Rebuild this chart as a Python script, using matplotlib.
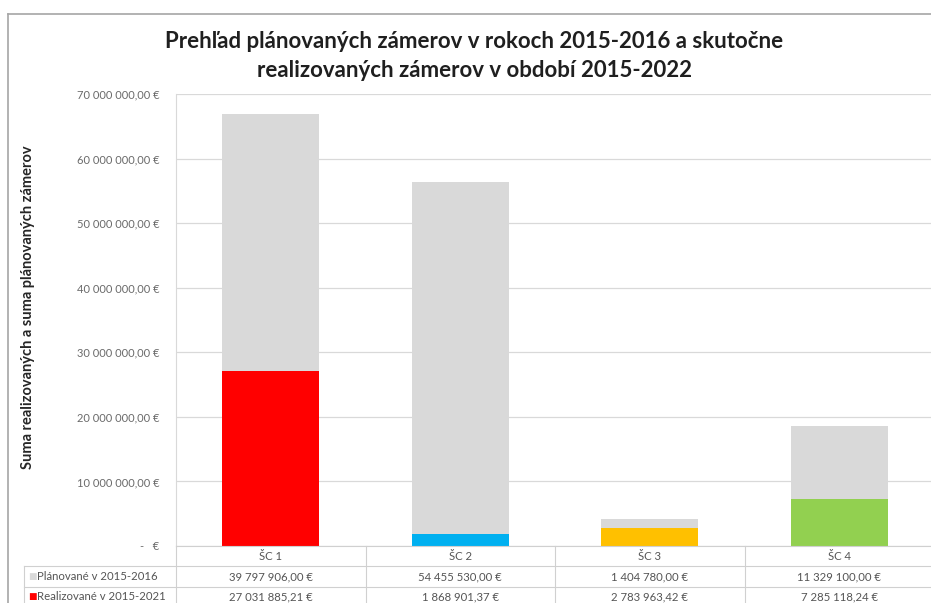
import matplotlib
matplotlib.use("Agg")
import matplotlib.pyplot as plt
from matplotlib.lines import Line2D
from matplotlib.ticker import FuncFormatter

plt.rcParams["font.family"] = ["Lato", "DejaVu Sans"]

categories = ["ŠC 1", "ŠC 2", "ŠC 3", "ŠC 4"]
planned = [39797906.00, 54455530.00, 1404780.00, 11329100.00]
realized = [27031885.21, 1868901.37, 2783963.42, 7285118.24]
planned_label = "Plánované v 2015-2016"
realized_label = "Realizované v 2015-2021"
realized_colors = ["#FF0000", "#00B0F0", "#FFC000", "#92D050"]
planned_color = "#D9D9D9"

title = "Prehľad plánovaných zámerov v rokoch 2015-2016 a skutočne\nrealizovaných zámerov v období 2015-2022"
ylabel = "Suma realizovaných a suma plánovaných zámerov"


def eur(v):
    s = f"{v:,.2f}".replace(",", " ").replace(".", ",")
    return s + " €"


def eur_tick(v, pos):
    if v == 0:
        return "-   €"
    return eur(v)


W, H = 931, 603
fig = plt.figure(figsize=(W / 100, H / 100), dpi=100)

# helper: pixel coords -> figure fraction
def fx(px):
    return px / W


def fy(py):
    return 1 - py / H


ax_left, ax_right, ax_top, ax_bottom = 176, 934, 94, 546
ax = fig.add_axes([fx(ax_left), fy(ax_bottom), fx(ax_right - ax_left), fy(ax_top) - fy(ax_bottom)])

x = list(range(len(categories)))
ax.bar(x, realized, width=0.51, color=realized_colors, zorder=3)
ax.bar(x, planned, width=0.51, bottom=realized, color=planned_color, zorder=3)

ax.set_xlim(-0.5, len(categories) - 0.5)
ax.set_ylim(0, 70000000)
ax.set_yticks(range(0, 70000001, 10000000))
ax.yaxis.set_major_formatter(FuncFormatter(eur_tick))
ax.tick_params(axis="y", labelsize=8, colors="#6A6A6A", length=0, pad=12)
ax.set_xticks([])
ax.grid(axis="y", color="#D9D9D9", linewidth=0.9, zorder=0)
for side in ["top", "right", "bottom"]:
    ax.spines[side].set_visible(False)
ax.spines["left"].set_color("#D9D9D9")

# data table under the axes
line_kw = dict(color="#D0D0D0", linewidth=0.8, transform=fig.transFigure, clip_on=False)
row_y = [546, 566, 587, 608]
label_left = 24
fig.add_artist(Line2D([fx(ax_left), 1.01], [fy(row_y[0])] * 2, **line_kw))
for yy in row_y[1:]:
    fig.add_artist(Line2D([fx(label_left), 1.01], [fy(yy)] * 2, **line_kw))
fig.add_artist(Line2D([fx(label_left)] * 2, [fy(row_y[1]), 0], **line_kw))
fig.add_artist(Line2D([fx(ax_left)] * 2, [fy(row_y[0]), 0], **line_kw))
col_w = (ax_right - ax_left) / len(categories)
for i in range(1, len(categories) + 1):
    xx = ax_left + i * col_w
    fig.add_artist(Line2D([fx(xx)] * 2, [fy(row_y[0]), 0], **line_kw))

txt_kw = dict(fontsize=8.2, color="#555555", va="center", ha="center")
for i, cat in enumerate(categories):
    cx = ax_left + (i + 0.5) * col_w
    fig.text(fx(cx), fy((row_y[0] + row_y[1]) / 2 + 1), cat, **txt_kw)
    fig.text(fx(cx), fy((row_y[1] + row_y[2]) / 2), eur(planned[i]), **txt_kw)
    fig.text(fx(cx), fy((row_y[2] + row_y[3]) / 2 - 1), eur(realized[i]), **txt_kw)

# row labels with legend keys
for j, (lab, col) in enumerate([(planned_label, planned_color), (realized_label, realized_colors[0])]):
    cy = (row_y[j + 1] + row_y[j + 2]) / 2 - (1 if j == 1 else 0)
    fig.text(fx(28), fy(cy), "■", fontsize=6.5, color=col, va="center", ha="left")
    fig.text(fx(37), fy(cy), lab, fontsize=8.2, color="#555555", va="center", ha="left")

# title and y label
fig.text(fx(474), fy(56), title, fontsize=16, fontweight="bold", color="#1F1F1F",
         ha="center", va="center", linespacing=1.5)
fig.text(fx(28), fy(307), ylabel, fontsize=10.5, fontweight="bold", color="#262626",
         rotation=90, ha="center", va="center")

# outer chart frame
frame_kw = dict(color="#A6A6A6", linewidth=1.2, transform=fig.transFigure)
fig.add_artist(Line2D([fx(8), 1], [fy(14), fy(14)], **frame_kw))
fig.add_artist(Line2D([fx(8), fx(8)], [fy(14), 0], **frame_kw))

fig.savefig("out.png", dpi=100)
